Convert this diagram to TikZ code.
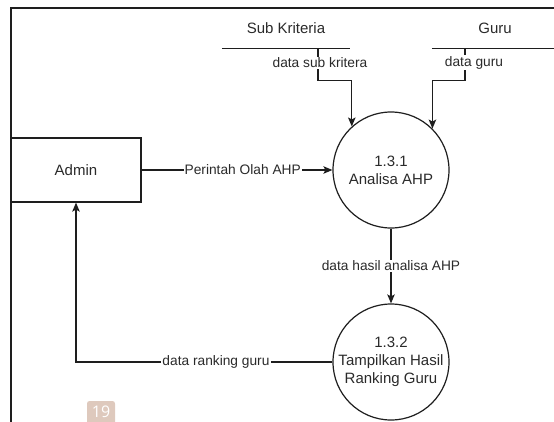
\documentclass[tikz,border=0pt]{standalone}
\usepackage{fontspec}
\setmainfont{Liberation Sans}
\newfontfamily\badgefont{Open Sans}
\usetikzlibrary{arrows.meta}
\definecolor{ink}{HTML}{1E1E1E}
\definecolor{txt}{HTML}{2A2A2A}
\definecolor{badge}{HTML}{DEC9BD}
\begin{document}
\begin{tikzpicture}[x=1pt,y=-1pt,
  every node/.style={text=txt, inner sep=0pt},
  proc/.style={circle, draw=ink, line width=1.2pt, minimum size=116pt,
    align=center, font=\fontsize{15}{18}\selectfont},
  entity/.style={rectangle, draw=ink, line width=1.2pt, minimum width=130pt,
    minimum height=64pt, font=\fontsize{15}{18}\selectfont},
  store/.style={rectangle, minimum height=40pt, font=\fontsize{15}{18}\selectfont},
  storeline/.style={draw=ink, line width=1.2pt},
  flow/.style={draw=ink, line width=1.2pt,
    -{Stealth[length=9pt,width=7.5pt,inset=2pt]}},
  lbl/.style={fill=white, inner xsep=1pt, inner ysep=1pt,
    font=\fontsize{13.75}{16}\selectfont},
  frame/.style={draw=ink, line width=2pt}]

\useasboundingbox (0,0) rectangle (554,421);

% page frame
\draw[frame] (11,425) -- (11,8) -- (560,8);

% data stores
\node[store, minimum width=128pt] (sk) at (286,28) {Sub Kriteria};
\node[store, minimum width=126pt] (gu) at (495,28) {Guru};
\foreach \s in {sk,gu}{
  \draw[storeline] (\s.north west) -- (\s.north east);
  \draw[storeline] (\s.south west) -- (\s.south east);
}

% external entity and processes
\node[entity] (admin) at (76,170) {Admin};
\node[proc] (p1) at (391,170) {1.3.1\\Analisa AHP};
\node[proc] (p2) at (391,362) {1.3.2\\Tampilkan Hasil\\Ranking Guru};

% data flows
\draw[flow] ([xshift=32pt]sk.south)
  -- node[lbl, pos=0.45, xshift=2pt] {data sub kritera} ++(0,32) -| (p1.132);
\draw[flow] ([xshift=-30pt]gu.south)
  -- node[lbl, pos=0.45, xshift=9pt] {data guru} ++(0,32) -| (p1.45);
\draw[flow] (admin.east) -- node[lbl, pos=0.53] {Perintah Olah AHP} (p1.west);
\draw[flow] (p1.south) -- node[lbl, pos=0.5] {data hasil analisa AHP} (p2.north);
\draw[flow] (p2.west) -| node[lbl, pos=0.227] {data ranking guru} (admin.south);

% page number tag
\fill[badge, rounded corners=2.5pt] (87,401) rectangle (115,432);
\node[anchor=base, text=white, font=\badgefont\fontsize{16}{17}\selectfont]
  (pg) at (101,417) {19};
\end{tikzpicture}
\end{document}
